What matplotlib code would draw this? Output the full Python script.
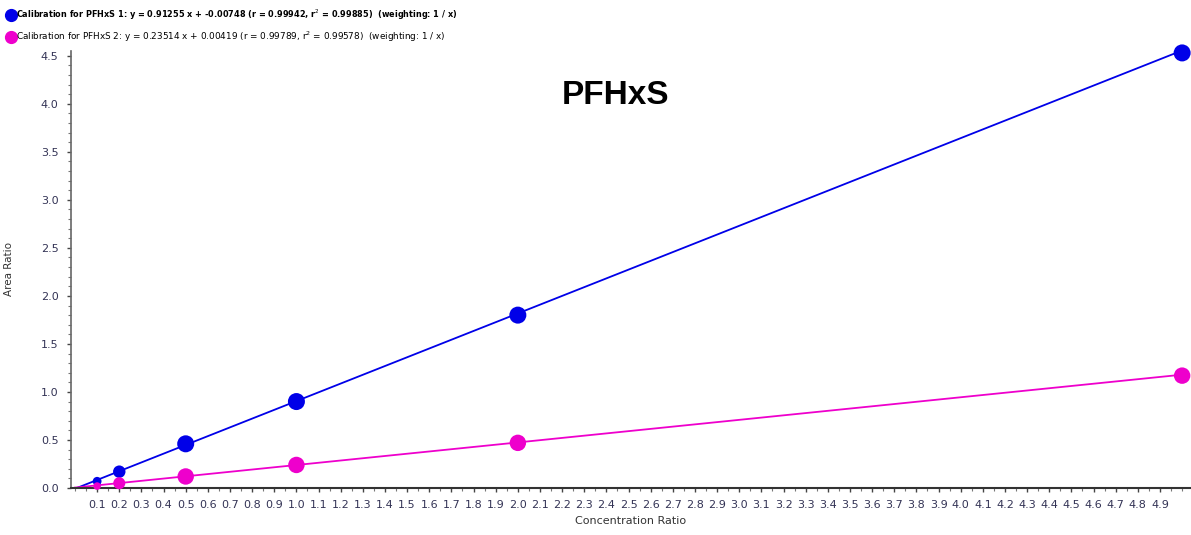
import numpy as np
import matplotlib
matplotlib.use("Agg")
import matplotlib.pyplot as plt
from matplotlib.ticker import MultipleLocator, FixedLocator, FixedFormatter
from matplotlib.lines import Line2D
from matplotlib import font_manager

# Calibration data (concentration ratio vs. area ratio)
conc = [0.1, 0.2, 0.5, 1.0, 2.0, 5.0]
area_1 = [0.07, 0.17, 0.46, 0.90, 1.80, 4.53]
area_2 = [0.02, 0.05, 0.12, 0.24, 0.47, 1.17]

# Fitted calibration lines
slope_1, icpt_1 = 0.91255, -0.00748
slope_2, icpt_2 = 0.23514, 0.00419

legend_1 = "Calibration for PFHxS 1: y = 0.91255 x + -0.00748 (r = 0.99942, r$^2$ = 0.99885)  (weighting: 1 / x)"
legend_2 = "Calibration for PFHxS 2: y = 0.23514 x + 0.00419 (r = 0.99789, r$^2$ = 0.99578)  (weighting: 1 / x)"
title = "PFHxS"
x_label = "Concentration Ratio"
y_label = "Area Ratio"

x_ticks = [round(0.1 * i, 1) for i in range(1, 50)]
y_ticks = [0.0, 0.5, 1.0, 1.5, 2.0, 2.5, 3.0, 3.5, 4.0, 4.5]

available = {f.name for f in font_manager.fontManager.ttflist}
if "Liberation Sans Narrow" in available:
    narrow = "Liberation Sans Narrow"
elif "DejaVu Sans Condensed" in available:
    narrow = "DejaVu Sans Condensed"
else:
    narrow = "DejaVu Sans"

BLUE = "#0000e8"
PINK = "#ee00cc"

fig = plt.figure(figsize=(11.91, 5.35), dpi=100)
ax = fig.add_axes([71 / 1191, 47 / 535, 1 - 71 / 1191, (488 - 51) / 535])

xs = np.array([0.0, 5.0])
ax.plot(xs, slope_1 * xs + icpt_1, color=BLUE, lw=1.3, zorder=2)
ax.plot(xs, slope_2 * xs + icpt_2, color=PINK, lw=1.3, zorder=2)

sizes = [40, 80, 150, 150, 150, 150]
sizes_2 = [30, 75, 140, 140, 140, 140]
ax.scatter(conc, area_1, s=sizes, color=BLUE, zorder=3, linewidths=0, clip_on=False)
ax.scatter(conc, area_2, s=sizes_2, color=PINK, zorder=3, linewidths=0, clip_on=False)

ax.set_xlim(-0.018, 5.04)
ax.set_ylim(0, 4.55)

for s in ("top", "right"):
    ax.spines[s].set_visible(False)
ax.spines["left"].set_color("#666666")
ax.spines["left"].set_linewidth(1.2)
ax.spines["bottom"].set_color("#333333")
ax.spines["bottom"].set_linewidth(1.5)

ax.xaxis.set_major_locator(FixedLocator(x_ticks))
ax.xaxis.set_major_formatter(FixedFormatter([f"{v:.1f}" for v in x_ticks]))
ax.xaxis.set_minor_locator(MultipleLocator(0.05))
ax.yaxis.set_major_locator(FixedLocator(y_ticks))
ax.yaxis.set_major_formatter(FixedFormatter([f"{v:.1f}" for v in y_ticks]))
ax.yaxis.set_minor_locator(MultipleLocator(0.1))

ax.tick_params(axis="both", which="major", length=3, width=1, color="#444444",
               labelsize=8, labelcolor="#333355", direction="out", pad=6)
ax.tick_params(axis="both", which="minor", length=2, width=0.8, color="#777777", direction="out")
for lab in ax.get_xticklabels() + ax.get_yticklabels():
    lab.set_fontfamily(narrow)

ax.set_xlabel(x_label, fontsize=8, family=narrow, color="#333333", labelpad=4)
ax.set_ylabel(y_label, fontsize=7.5, family=narrow, color="#333333")
ax.yaxis.set_label_coords(-57 / 1120, 0.5)

fig.text(615 / 1191, 1 - 95 / 535, title, fontsize=24, fontweight="bold",
         ha="center", va="center", family="Liberation Sans")

# Legend entries drawn at the top of the figure
handles = [
    Line2D([], [], marker="o", ls="none", color=BLUE, markersize=8.5),
    Line2D([], [], marker="o", ls="none", color=PINK, markersize=8.5),
]
leg = fig.legend(handles, [legend_1, legend_2], loc="upper left",
                 bbox_to_anchor=(0.0, 1.0), frameon=False,
                 handlelength=0.6, handletextpad=0.3, labelspacing=0.85,
                 prop={"family": narrow, "size": 6.4})
leg.get_texts()[0].set_fontweight("bold")
leg.get_texts()[0].set_fontsize(5.9)

fig.savefig("out.png", dpi=100)
